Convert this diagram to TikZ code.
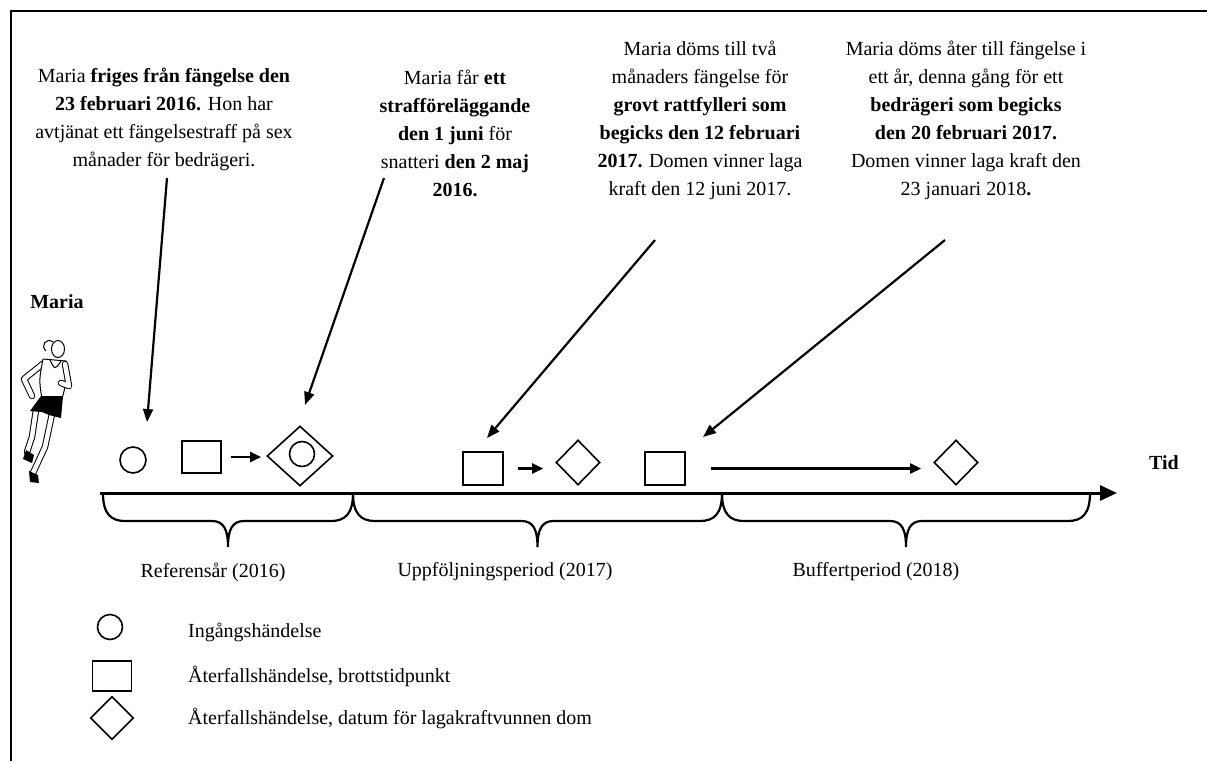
\documentclass[tikz,border=0pt]{standalone}
\usepackage{fontspec}
\setmainfont{Liberation Serif}
\usetikzlibrary{shapes,arrows.meta}

\begin{document}
\begin{tikzpicture}[x=1pt,y=-1pt,
  txt/.style={align=center,inner sep=0pt,font=\fontsize{20}{28}\selectfont},
  ev/.style={draw=black,line width=1.6pt,inner sep=0pt},
  ptr/.style={-{Triangle[length=13pt,width=10pt]},draw=black,line width=2.2pt},
  nxt/.style={-{Triangle[length=11pt,width=10pt]},draw=black,line width=2.4pt},
  limb/.style={draw=black,double=white,double distance=4.5pt,line width=1pt,line cap=round,line join=round}]
\useasboundingbox (0,0) rectangle (1207,761);
\draw[line width=2.5pt] (11,761) -- (11,11) -- (1207,11);

% runner
\draw[limb] (36,410) -- (32,437) -- (27,452);
\draw[limb] (44,363) -- (24,379) -- (32,396);
\filldraw[fill=white,line width=1pt] (43,359) -- (66,361) .. controls (68,376) .. (62,399) -- (42,399) .. controls (39,380) .. (43,359);
\draw[line width=1pt] (50,360) .. controls (55,370) .. (61,361);
\draw[limb] (52,414) -- (45,447) -- (33,473);
\fill[black] (41,396) -- (63,396) -- (61,418) -- (49,415) -- (42,412) -- (30,411) -- cycle;
\fill[black] (26,450) -- (34,455) -- (32,463) -- (23,459) -- cycle;
\fill[black] (29,471) -- (38,475) -- (39,483) -- (30,482) -- cycle;
\draw[limb] (65,364) -- (69,386) -- (61,383);
\filldraw[fill=white,line width=1pt] (58,349) ellipse [x radius=6.5pt,y radius=8.5pt];
\draw[line width=1pt] (53,342) .. controls (46,337) and (40,346) .. (46,351);

% timeline
\node[shape=circle,ev,minimum size=26pt] (0) at (133,460) {};
\node[shape=rectangle,ev,minimum width=39pt,minimum height=32pt] (1) at (201.5,457) {};
\node[shape=diamond,ev,minimum width=66pt,minimum height=60pt] (2) at (300,456) {};
\node[shape=circle,ev,minimum size=25pt] (3) at (302,454) {};
\node[shape=rectangle,ev,minimum width=40pt,minimum height=33pt] (4) at (483,468.5) {};
\node[shape=diamond,ev,minimum width=44pt,minimum height=45pt] (5) at (578,462.5) {};
\node[shape=rectangle,ev,minimum width=40pt,minimum height=33pt] (6) at (665,468.5) {};
\node[shape=diamond,ev,minimum width=44pt,minimum height=45pt] (7) at (956,462.5) {};

\path (1.east) edge[nxt,shorten <=9pt,shorten >=5pt] (1.east -| 2.west);
\path (4.east) edge[nxt,shorten <=14pt,shorten >=12pt] (4.east -| 5.west);
\path (6.east) edge[nxt,shorten <=25pt,shorten >=12pt] (6.east -| 7.west);

\coordinate (a) at (100,493);
\coordinate (b) at (1117,493);
\path (a) edge[-{Triangle[length=17pt,width=15pt]},draw=black,line width=3pt] (b);

\foreach \l/\r/\m in {103/353/228, 353/722/537.5, 722/1090/906}
  \draw[line width=2.2pt] (\l,493) .. controls (\l,514) and (\l+8,521) .. (\l+22,521) -- (\m-16,521) .. controls (\m-4,521) and (\m,530) .. (\m,547) .. controls (\m,530) and (\m+4,521) .. (\m+16,521) -- (\r-22,521) .. controls (\r-8,521) and (\r,514) .. (\r,493);

% texts
\node[txt] (8) at (164,119) {Maria \textbf{friges från fängelse den}\\ \textbf{23 februari 2016.} Hon har\\ avtjänat ett fängelsestraff på sex\\ månader för bedrägeri.};
\node[txt] (9) at (455,133) {Maria får \textbf{ett}\\ \textbf{strafföreläggande}\\ \textbf{den 1 juni} för\\ snatteri \textbf{den 2 maj}\\ \textbf{2016.}};
\node[txt] (10) at (700,120) {Maria döms till två\\ månaders fängelse för\\ \textbf{grovt rattfylleri som}\\ \textbf{begicks den 12 februari}\\ \textbf{2017.} Domen vinner laga\\ kraft den 12 juni 2017.};
\node[txt] (11) at (966,120) {Maria döms åter till fängelse i\\ ett år, denna gång för ett\\ \textbf{bedrägeri som begicks}\\ \textbf{den 20 februari 2017.}\\ Domen vinner laga kraft den\\ 23 januari 2018\textbf{.}};
\node[txt] (12) at (57,302) {\textbf{Maria}};
\node[txt] (13) at (1164,463) {\textbf{Tid}};
\node[txt] (14) at (213,572) {Referensår (2016)};
\node[txt] (15) at (505,572) {Uppföljningsperiod (2017)};
\node[txt] (16) at (876,572) {Buffertperiod (2018)};

\coordinate (c0) at (167,178);
\coordinate (c1) at (147,422);
\coordinate (c2) at (384,178);
\coordinate (c3) at (305,405);
\coordinate (c4) at (655,240);
\coordinate (c5) at (487,438);
\coordinate (c6) at (945,240);
\coordinate (c7) at (703,437);
\path (c0) edge[ptr] (c1);
\path (c2) edge[ptr] (c3);
\path (c4) edge[ptr] (c5);
\path (c6) edge[ptr] (c7);

% legend
\node[shape=circle,ev,minimum size=25pt] (17) at (110,627) {};
\node[shape=rectangle,ev,minimum width=39pt,minimum height=30pt] (18) at (112,676) {};
\node[shape=diamond,ev,minimum width=43pt,minimum height=43pt] (19) at (112,718) {};
\node[txt,anchor=west] (20) at (188,632) {Ingångshändelse};
\node[txt,anchor=west] (21) at (188,676) {Återfallshändelse, brottstidpunkt};
\node[txt,anchor=west] (22) at (188,718) {Återfallshändelse, datum för lagakraftvunnen dom};
\end{tikzpicture}
\end{document}
